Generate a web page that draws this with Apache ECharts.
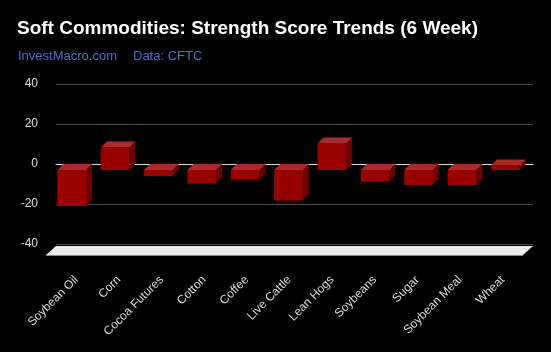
<!DOCTYPE html>
<html>
<head>
<meta charset="utf-8">
<script src="https://cdn.jsdelivr.net/npm/echarts@6/dist/echarts.min.js"></script>
<style>
  html, body { margin: 0; padding: 0; background: #000; }
  #chart { width: 551px; height: 352px; }
</style>
</head>
<body>
<div id="chart"></div>
<script>
// categories and 6 week strength score trend values
const categories = ['Soybean Oil', 'Corn', 'Cocoa Futures', 'Cotton', 'Coffee', 'Live Cattle',
  'Lean Hogs', 'Soybeans', 'Sugar', 'Soybean Meal', 'Wheat'];
const scores = [-18, 11.2, -3, -6.8, -4.8, -15.3, 13.3, -5.8, -7.5, -7.5, 2.3];
const yTicks = [-40, -20, 0, 20, 40];

const DEPTH = 6; // 3d offset of the bars

let chart = echarts.init(document.getElementById('chart'));

// bar drawn as a little box: front face, top face and right side
function renderBox(params, api) {
  let idx = api.value(0);
  let v = api.value(1);
  let base = api.coord([idx, 0]);
  let end = api.coord([idx, v]);
  let w = api.size([1, 0])[0] * 0.66;
  let xL = base[0] - w / 2, xR = base[0] + w / 2;
  let yT = Math.min(base[1], end[1]), yB = Math.max(base[1], end[1]);
  let d = DEPTH;
  return {
    type: 'group',
    children: [
      { type: 'polygon', shape: { points: [[xR - d, yT + d], [xR, yT], [xR, yB], [xR - d, yB + d]] },
        style: { fill: '#6b0000' } },
      { type: 'polygon', shape: { points: [[xL - d, yT + d], [xR - d, yT + d], [xR, yT], [xL, yT]] },
        style: { fill: '#a92a2a' } },
      { type: 'rect', shape: { x: xL - d, y: yT + d, width: w, height: yB - yT },
        style: { fill: '#990000' } }
    ]
  };
}

// white floor under the lowest gridline
function renderFloor(params, api) {
  let cs = params.coordSys;
  let y0 = api.coord([0, yTicks[0]])[1] + 2;
  let x0 = cs.x, x1 = cs.x + cs.width;
  return {
    type: 'group',
    children: [
      { type: 'polygon', shape: { points: [[x0, y0], [x1, y0], [x1 - 10, y0 + 9], [x0 - 10, y0 + 9]] },
        style: { fill: '#ebebeb' } },
      { type: 'line', shape: { x1: x0 - 10, y1: y0 + 9.5, x2: x1 - 10, y2: y0 + 9.5 },
        style: { stroke: '#888', lineWidth: 1 } }
    ]
  };
}

chart.setOption({
  backgroundColor: '#000',
  animation: false,
  textStyle: { fontFamily: 'Liberation Sans, Arial, sans-serif' },
  title: [
    { text: 'Soft Commodities: Strength Score Trends (6 Week)', left: 17, top: 19, padding: 0,
      textStyle: { color: '#fff', fontSize: 19, fontWeight: 'bold', fontFamily: 'Liberation Sans' } },
    { text: 'InvestMacro.com', left: 18, top: 50, padding: 0,
      textStyle: { color: '#4e72c8', fontSize: 13, fontWeight: 'normal', fontFamily: 'Liberation Sans' } },
    { text: 'Data: CFTC', left: 133, top: 50, padding: 0,
      textStyle: { color: '#4e72c8', fontSize: 13, fontWeight: 'normal', fontFamily: 'Liberation Sans' } }
  ],
  grid: [
    { left: 56, right: 18, top: 84, bottom: 108 },
    { left: 55, right: 27, top: 84, bottom: 108 }
  ],
  xAxis: [
    { type: 'category', gridIndex: 0, data: categories,
      axisLine: { onZero: true, lineStyle: { color: '#ddd', width: 1 } },
      axisTick: { show: false }, axisLabel: { show: false } },
    { type: 'category', gridIndex: 1, data: categories, position: 'bottom',
      axisLine: { show: false, onZero: false }, axisTick: { show: false },
      axisLabel: { rotate: 45, margin: 34, interval: 0, color: '#ddd', fontSize: 12,
        fontFamily: 'Liberation Sans' } }
  ],
  yAxis: [
    { type: 'value', gridIndex: 0, min: yTicks[0], max: yTicks[yTicks.length - 1], interval: 20,
      axisLine: { show: false }, axisTick: { show: false },
      axisLabel: { color: '#ddd', fontSize: 12, margin: 18, fontFamily: 'Liberation Sans' },
      splitLine: { lineStyle: { color: '#4a4a4a', width: 1 } } },
    { type: 'value', gridIndex: 1, min: yTicks[0], max: yTicks[yTicks.length - 1], interval: 20,
      show: false }
  ],
  series: [
    { type: 'custom', xAxisIndex: 0, yAxisIndex: 0, data: [[0, 0]], renderItem: renderFloor, z: 1 },
    { type: 'custom', xAxisIndex: 0, yAxisIndex: 0, z: 3,
      data: scores.map((v, i) => [i, v]), renderItem: renderBox }
  ]
});
</script>
</body>
</html>
